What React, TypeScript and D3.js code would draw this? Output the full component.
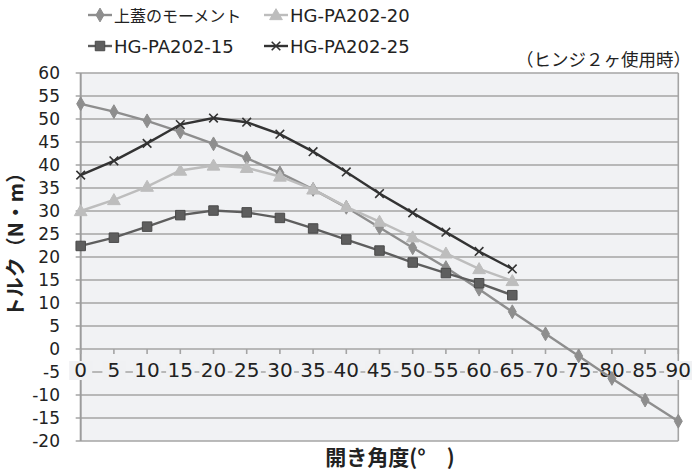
import React from "react";
import * as d3 from "d3";

// opening angle (deg)
const anglesLid = [0, 5, 10, 15, 20, 25, 30, 35, 40, 45, 50, 55, 60, 65, 70, 75, 80, 85, 90];
const anglesHinge = [0, 5, 10, 15, 20, 25, 30, 35, 40, 45, 50, 55, 60, 65];

// torque (N·m)
const lidMoment = [53.3, 51.6, 49.6, 47.2, 44.6, 41.5, 38.3, 34.7, 30.8, 26.4, 22.0, 17.7, 13.0, 8.1, 3.3, -1.5, -6.4, -11.1, -15.7];
const hg15 = [22.4, 24.2, 26.6, 29.1, 30.1, 29.7, 28.5, 26.2, 23.8, 21.4, 18.8, 16.5, 14.3, 11.7];
const hg20 = [30.0, 32.4, 35.3, 38.8, 39.9, 39.4, 37.5, 34.7, 30.9, 27.7, 24.3, 20.8, 17.4, 14.8];
const hg25 = [37.8, 40.9, 44.7, 48.8, 50.2, 49.3, 46.7, 42.9, 38.5, 33.8, 29.6, 25.4, 21.2, 17.4];

const xTicks = d3.range(0, 95, 5);
const yTicks = d3.range(-20, 65, 5);

const LATIN = "'DejaVu Sans', 'Noto Sans CJK JP', sans-serif";
const CJK = "'Noto Sans CJK JP', sans-serif";

type Series = { name: string; xs: number[]; ys: number[]; color: string; marker: string };

const series: Series[] = [
  { name: "上蓋のモーメント", xs: anglesLid, ys: lidMoment, color: "#8e8e8e", marker: "diamond" },
  { name: "HG-PA202-15", xs: anglesHinge, ys: hg15, color: "#5e5e5e", marker: "square" },
  { name: "HG-PA202-20", xs: anglesHinge, ys: hg20, color: "#bdbdbd", marker: "triangle" },
  { name: "HG-PA202-25", xs: anglesHinge, ys: hg25, color: "#333333", marker: "x" },
];

const legendOrder = [0, 2, 1, 3];

function Marker({ kind, color, x, y }: { kind: string; color: string; x: number; y: number }) {
  if (kind === "x") {
    const p = d3.symbol(d3.symbolTimes, 50)();
    return <path d={p || ""} transform={`translate(${x},${y})`} fill="none" stroke={color} strokeWidth={1.6} />;
  }
  let sym: d3.SymbolType = d3.symbolDiamond;
  let size = 55;
  if (kind === "square") { sym = d3.symbolSquare; size = 90; }
  if (kind === "triangle") { sym = d3.symbolTriangle; size = 70; }
  const p = d3.symbol(sym, size)();
  const stroke = kind === "square" ? "#4a4a4a" : color;
  return <path d={p || ""} transform={`translate(${x},${y + (kind === "triangle" ? 1 : 0)})`} fill={color} stroke={stroke} strokeWidth={1} />;
}

export default function App() {
  const width = 692;
  const height = 470;
  const x = d3.scaleLinear().domain([0, 90]).range([80.7, 678.3]);
  const y = d3.scaleLinear().domain([-20, 60]).range([441, 73]);
  const line = d3.line<[number, number]>().x((d) => x(d[0])).y((d) => y(d[1]));

  const labelY = y(-5) + 5;

  return (
    <svg width={width} height={height} style={{ position: "absolute", left: 0, top: 0, background: "#fff" }}>
      {/* plot area */}
      <rect x={x(0)} y={y(60)} width={x(90) - x(0)} height={y(-20) - y(60)} fill="#f1f2f4" />

      {/* horizontal gridlines + left ticks */}
      {yTicks.map((t) => (
        <line key={t} x1={x(0) - 5} x2={x(90)} y1={y(t)} y2={y(t)} stroke="#a4a4a4" strokeWidth={1.6} />
      ))}
      {/* right border */}
      <line x1={x(90)} x2={x(90)} y1={y(60)} y2={y(-20)} stroke="#a4a4a4" strokeWidth={1.6} />
      {/* y axis */}
      <line x1={x(0)} x2={x(0)} y1={y(60)} y2={y(-20)} stroke="#9c9c9c" strokeWidth={2} />
      {/* x ticks on zero line */}
      {xTicks.map((t) => (
        <line key={t} x1={x(t)} x2={x(t)} y1={y(0)} y2={y(0) + 5} stroke="#a4a4a4" strokeWidth={1.6} />
      ))}

      {/* y tick labels */}
      {yTicks.map((t) => (
        <text key={t} x={60} y={y(t) + 6} textAnchor="end" fontFamily={LATIN} fontSize={17} fill="#222">
          {t}
        </text>
      ))}

      {/* x tick labels with backgrounds sitting on the -5 gridline */}
      {xTicks.map((t) => {
        const w = Math.max(23, String(t).length * 12.7 + 3);
        return (
          <g key={t}>
            <rect x={x(t) - w / 2} y={labelY - 16} width={w} height={19} fill="#f0f1f3" />
            <text x={x(t)} y={labelY} textAnchor="middle" fontFamily={LATIN} fontSize={20} fill="#222">
              {t}
            </text>
          </g>
        );
      })}

      {/* series */}
      {series.map((s) => (
        <g key={s.name}>
          <path
            d={line(s.xs.map((a, i) => [a, s.ys[i]] as [number, number])) || ""}
            fill="none"
            stroke={s.color}
            strokeWidth={2.4}
          />
          {s.xs.map((a, i) => (
            <Marker key={a} kind={s.marker} color={s.color} x={x(a)} y={y(s.ys[i])} />
          ))}
        </g>
      ))}

      {/* legend */}
      {legendOrder.map((idx, k) => {
        const s = series[idx];
        const col = k % 2;
        const row = Math.floor(k / 2);
        const lx = col === 0 ? 88 : 264;
        const ly = row === 0 ? 15 : 46;
        const jp = /[^\x00-\x7f]/.test(s.name);
        return (
          <g key={s.name}>
            <line x1={lx} x2={lx + 24} y1={ly} y2={ly} stroke={s.color} strokeWidth={2.4} />
            <Marker kind={s.marker} color={s.color} x={lx + 12} y={ly} />
            <text
              x={lx + 26}
              y={ly + 7}
              fontFamily={jp ? CJK : LATIN}
              fontSize={jp ? 16 : 18}
              fill="#222"
            >
              {s.name}
            </text>
          </g>
        );
      })}

      {/* note */}
      <text x={691} y={66} textAnchor="end" fontFamily={CJK} fontSize={17.5} fill="#222">
        （ヒンジ２ヶ使用時）
      </text>

      {/* axis titles */}
      <text
        transform={`translate(23,240) rotate(-90)`}
        textAnchor="middle"
        fontFamily={CJK}
        fontWeight="bold"
        fontSize={20}
        fill="#222"
      >
        トルク（N・m）
      </text>
      <text x={390} y={465} textAnchor="middle" fontFamily={CJK} fontWeight="bold" fontSize={21} fill="#222">
        開き角度(°　)
      </text>
    </svg>
  );
}
